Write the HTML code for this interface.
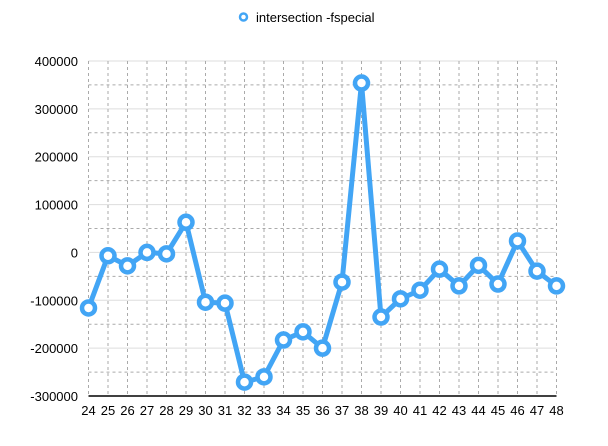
<!DOCTYPE html>
<html><head><meta charset="utf-8"><style>
body{margin:0;background:#fff;width:608px;height:446px;overflow:hidden}
svg{display:block;font-family:"Liberation Sans",sans-serif}
</style></head><body>
<svg id="c" width="608" height="446"></svg>
<script>
const categories=[24,25,26,27,28,29,30,31,32,33,34,35,36,37,38,39,40,41,42,43,44,45,46,47,48];
const values=[-116000,-7000,-28000,0,-3000,63000,-104000,-106000,-271000,-260000,-183000,-166000,-200000,-62000,354000,-135000,-97000,-79000,-35000,-70000,-27000,-66000,24000,-39000,-70000];
const yTicks=[400000,300000,200000,100000,0,-100000,-200000,-300000];
const seriesName="intersection -fspecial";
const L=88.5,R=556.5,T=61,B=396,ymin=-300000,ymax=400000;
const sx=i=>L+i*(R-L)/(categories.length-1);
const sy=v=>B-(v-ymin)/(ymax-ymin)*(B-T);
const svg=document.getElementById('c');const NS='http://www.w3.org/2000/svg';
function mk(t,a,p){const e=document.createElementNS(NS,t);for(const k in a)e.setAttribute(k,a[k]);(p||svg).appendChild(e);return e;}
const grid=mk('g',{});


for(let v=ymin+50000;v<=ymax;v+=50000){const y=sy(v);const solid=v%100000===0;
mk('line',{x1:L,x2:R,y1:y,y2:y,stroke:solid?'#ddd':'#aaa','stroke-dasharray':solid?'':'3,3','stroke-width':1},grid);}
categories.forEach((c,i)=>{const x=sx(i);mk('line',{x1:x,x2:x,y1:T,y2:B,stroke:'#aaa','stroke-dasharray':'3,3'},grid);
const t=mk('text',{x:x,y:B+19,'text-anchor':'middle','font-size':13,fill:'#000'});t.textContent=c;

});
yTicks.forEach(v=>{const t=mk('text',{x:78,y:sy(v)+5,'text-anchor':'end','font-size':13,fill:'#000'});t.textContent=v;

});
const ax=mk('line',{x1:L,x2:R,y1:B,y2:B,stroke:'#000','stroke-width':1.5});


const pl=mk('polyline',{points:values.map((v,i)=>sx(i)+','+sy(v)).join(' '),fill:'none',stroke:'#42a5f5','stroke-width':5,'stroke-linejoin':'round'});


values.forEach((v,i)=>{const c=mk('circle',{cx:sx(i),cy:sy(v),r:6.5,fill:'#fff',stroke:'#42a5f5','stroke-width':4.5});

});
const lg=mk('g',{});


mk('circle',{cx:243.5,cy:17,r:3.5,fill:'#fff',stroke:'#42a5f5','stroke-width':2.5},lg);
const lt=mk('text',{x:256,y:22,'font-size':13,fill:'#000'},lg);lt.textContent=seriesName;
</script>
</body></html>
